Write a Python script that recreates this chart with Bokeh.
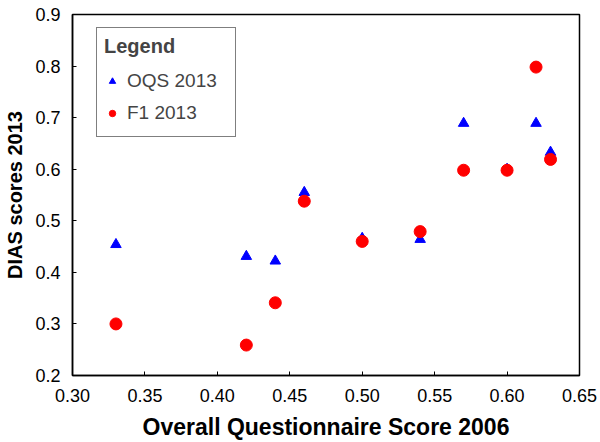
from bokeh.plotting import figure
from bokeh.models import Range1d, NumeralTickFormatter, SingleIntervalTicker, Legend, LegendItem
from bokeh.embed import file_html
from bokeh.resources import INLINE

# Data
x_scores = [0.33, 0.42, 0.44, 0.46, 0.50, 0.54, 0.57, 0.60, 0.62, 0.63]
oqs_2013 = [0.454, 0.431, 0.422, 0.555, 0.466, 0.464, 0.689, 0.600, 0.689, 0.633]
f1_2013 = [0.300, 0.259, 0.341, 0.538, 0.460, 0.479, 0.598, 0.598, 0.798, 0.619]
x_label = "Overall Questionnaire Score 2006"
y_label = "DIAS scores 2013"
series_names = ["OQS 2013", "F1 2013"]
legend_title = "Legend"

FONT = "Liberation Sans"

p = figure(width=600, height=442, output_backend="svg", toolbar_location=None,
           x_range=Range1d(0.30, 0.65), y_range=Range1d(0.2, 0.9),
           min_border_left=72, min_border_right=21, min_border_top=14, min_border_bottom=67)

p.xgrid.visible = False
p.ygrid.visible = False
p.outline_line_color = "black"
p.outline_line_width = 1.5
p.background_fill_color = "white"

p.xaxis.ticker = SingleIntervalTicker(interval=0.05)
p.yaxis.ticker = SingleIntervalTicker(interval=0.1)
p.xaxis.formatter = NumeralTickFormatter(format="0.00")
p.yaxis.formatter = NumeralTickFormatter(format="0.0")

for ax in (p.xaxis, p.yaxis):
    ax.minor_tick_line_color = None
    ax.major_tick_in = 4
    ax.major_tick_out = 0
    ax.major_tick_line_color = "black"
    ax.axis_line_color = "black"
    ax.axis_line_width = 1.5
    ax.major_label_text_font = FONT
    ax.major_label_text_font_size = "18px"
    ax.major_label_text_color = "black"
    ax.axis_label_text_font = FONT
    ax.axis_label_text_font_style = "bold"
    ax.axis_label_text_color = "black"

p.xaxis.axis_label = x_label
p.yaxis.axis_label = y_label
p.xaxis.axis_label_text_font_size = "23px"
p.yaxis.axis_label_text_font_size = "20px"
p.xaxis.major_label_standoff = 9
p.yaxis.major_label_standoff = 8
p.xaxis.axis_label_standoff = 9
p.yaxis.axis_label_standoff = 6

r1 = p.scatter(x_scores, oqs_2013, marker="triangle", size=10.5, color="#0000FF")
r2 = p.scatter(x_scores, f1_2013, marker="circle", size=12, color="#FF0000")

legend = Legend(items=[LegendItem(label=series_names[0], renderers=[r1]),
                       LegendItem(label=series_names[1], renderers=[r2])],
                title=legend_title, location=(24, 238))
legend.title_text_font = FONT
legend.title_text_font_style = "bold"
legend.title_text_font_size = "20px"
legend.label_text_font = FONT
legend.label_text_font_size = "19px"
legend.border_line_color = "black"
legend.border_line_width = 1.5
legend.padding = 7
legend.glyph_width = 16
legend.glyph_height = 32
legend.label_standoff = 7
legend.label_width = 101
legend.label_height = 32
legend.spacing = 0
legend.title_standoff = 7
legend.background_fill_alpha = 1
p.add_layout(legend)

open("out.html", "w").write(file_html(p, INLINE))
